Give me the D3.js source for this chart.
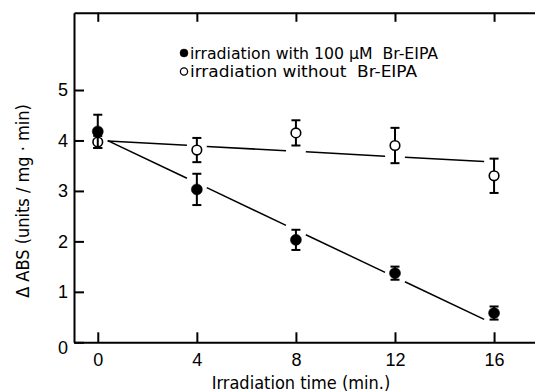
<!DOCTYPE html>
<html>
<head>
<meta charset="utf-8">
<script src="https://cdn.jsdelivr.net/npm/d3@7"></script>
<style>
  body { margin: 0; background: #fff; }
  svg { display: block; font-family: "DejaVu Sans Condensed", "DejaVu Sans", sans-serif; }
  .legend text { font-family: "Liberation Sans Narrow", "DejaVu Sans Condensed", sans-serif; white-space: pre; }
</style>
</head>
<body>
<div id="chart"></div>
<script>
// values
let times = [0, 4, 8, 12, 16];
let withBr = [4.18, 3.03, 2.03, 1.37, 0.58];
let withBrErr = [0.33, 0.31, 0.2, 0.13, 0.13];
let withoutBr = [3.97, 3.81, 4.15, 3.9, 3.3];
let withoutBrErr = [0.12, 0.24, 0.25, 0.35, 0.34];
// fitted lines, value at t = 0 and t = 16
let withBrFit = [4.09, 0.36];
let withoutBrFit = [4.0, 3.57];
let xTicks = [0, 4, 8, 12, 16];
let yTicks = [0, 1, 2, 3, 4, 5];
let legendLabels = ["irradiation with 100 \u03BCM  Br-EIPA", "irradiation without  Br-EIPA"];

const width = 535, height = 392;

let svg = d3.select("#chart").append("svg")
  .attr("width", width)
  .attr("height", height);

let x = d3.scaleLinear().domain([-0.96, 18]).range([74, 543.6]);
let y = d3.scaleLinear().domain([0, 6.53]).range([342.3, 12.8]);

// axes, ticks pointing inward
let xAxis = svg.append("g")
  .attr("transform", "translate(0," + y(0) + ")")
  .call(d3.axisBottom(x).tickValues(xTicks).tickSize(-10).tickPadding(11).tickSizeOuter(0));

let xTop = svg.append("g")
  .attr("transform", "translate(0," + y(6.53) + ")")
  .call(d3.axisTop(x).tickValues(xTicks).tickSize(-9).tickSizeOuter(0).tickFormat(""));

let yAxis = svg.append("g")
  .attr("transform", "translate(" + x(-0.96) + ",0)")
  .call(d3.axisLeft(y).tickValues(yTicks).tickFormat(d3.format("d")).tickSize(-10).tickPadding(6).tickSizeOuter(0));

[xAxis, xTop, yAxis].forEach(function(a) {
  a.select(".domain").attr("stroke", "#000").attr("stroke-width", 2);
  a.selectAll(".tick line").attr("stroke", "#000").attr("stroke-width", 2);
  a.selectAll(".tick text").attr("fill", "#000").style("font-size", "18px");
});
yAxis.selectAll(".tick text").filter(d => d === 0).attr("dy", "0.62em");

// fit lines, broken around each time point
let gap = 0.4;
function fitSegments(fit) {
  let at = t => fit[0] + (fit[1] - fit[0]) * t / 16;
  let segs = [];
  for (let i = 0; i < times.length - 1; i++) {
    let t0 = times[i] + gap, t1 = times[i + 1] - gap;
    segs.push([[t0, at(t0)], [t1, at(t1)]]);
  }
  return segs;
}
let line = d3.line().x(d => x(d[0])).y(d => y(d[1]));
[withBrFit, withoutBrFit].forEach(function(fit) {
  svg.append("g").selectAll("path")
    .data(fitSegments(fit))
    .enter()
    .append("path")
    .attr("d", line)
    .attr("fill", "none")
    .attr("stroke", "#000")
    .attr("stroke-width", 1.5);
});

// error bars and markers
function drawSeries(vals, errs, filled) {
  let g = svg.append("g");
  let pts = times.map((t, i) => ({t: t, v: vals[i], e: errs[i]}));
  let cap = 4.5;
  let eb = g.selectAll(".eb").data(pts).enter().append("g");
  eb.append("line")
    .attr("x1", d => x(d.t)).attr("x2", d => x(d.t))
    .attr("y1", d => y(d.v + d.e)).attr("y2", d => y(d.v - d.e))
    .attr("stroke", "#000").attr("stroke-width", 2);
  eb.append("line")
    .attr("x1", d => x(d.t) - cap).attr("x2", d => x(d.t) + cap)
    .attr("y1", d => y(d.v + d.e)).attr("y2", d => y(d.v + d.e))
    .attr("stroke", "#000").attr("stroke-width", 2);
  eb.append("line")
    .attr("x1", d => x(d.t) - cap).attr("x2", d => x(d.t) + cap)
    .attr("y1", d => y(d.v - d.e)).attr("y2", d => y(d.v - d.e))
    .attr("stroke", "#000").attr("stroke-width", 2);
  g.selectAll("circle").data(pts).enter().append("circle")
    .attr("cx", d => x(d.t))
    .attr("cy", d => y(d.v))
    .attr("r", filled ? 5.5 : 4.8)
    .attr("fill", filled ? "#000" : "#fff")
    .attr("stroke", "#000")
    .attr("stroke-width", filled ? 0.5 : 1.6);
}
drawSeries(withoutBr, withoutBrErr, false);
drawSeries(withBr, withBrErr, true);

// legend
let legend = svg.append("g").attr("class", "legend");
legendLabels.forEach(function(label, i) {
  let ly = 53 + i * 18.5;
  legend.append("circle")
    .attr("cx", 184).attr("cy", ly)
    .attr("r", i === 0 ? 4 : 3.6)
    .attr("fill", i === 0 ? "#000" : "#fff")
    .attr("stroke", "#000")
    .attr("stroke-width", i === 0 ? 0.5 : 1.3);
  legend.append("text")
    .attr("x", 190).attr("y", ly + 5.5)
    .attr("textLength", i === 0 ? 248 : 227)
    .attr("lengthAdjust", "spacingAndGlyphs")
    .style("font-size", "16px")
    .text(label);
});

// axis titles
svg.append("text")
  .attr("x", 301).attr("y", 389)
  .attr("text-anchor", "middle")
  .style("font-size", "18px")
  .text("Irradiation time (min.)");

svg.append("text")
  .attr("transform", "translate(29,201) rotate(-90)")
  .attr("text-anchor", "middle")
  .style("font-size", "18px")
  .text("\u0394 ABS (units / mg \u00B7 min)");
</script>
</body>
</html>
